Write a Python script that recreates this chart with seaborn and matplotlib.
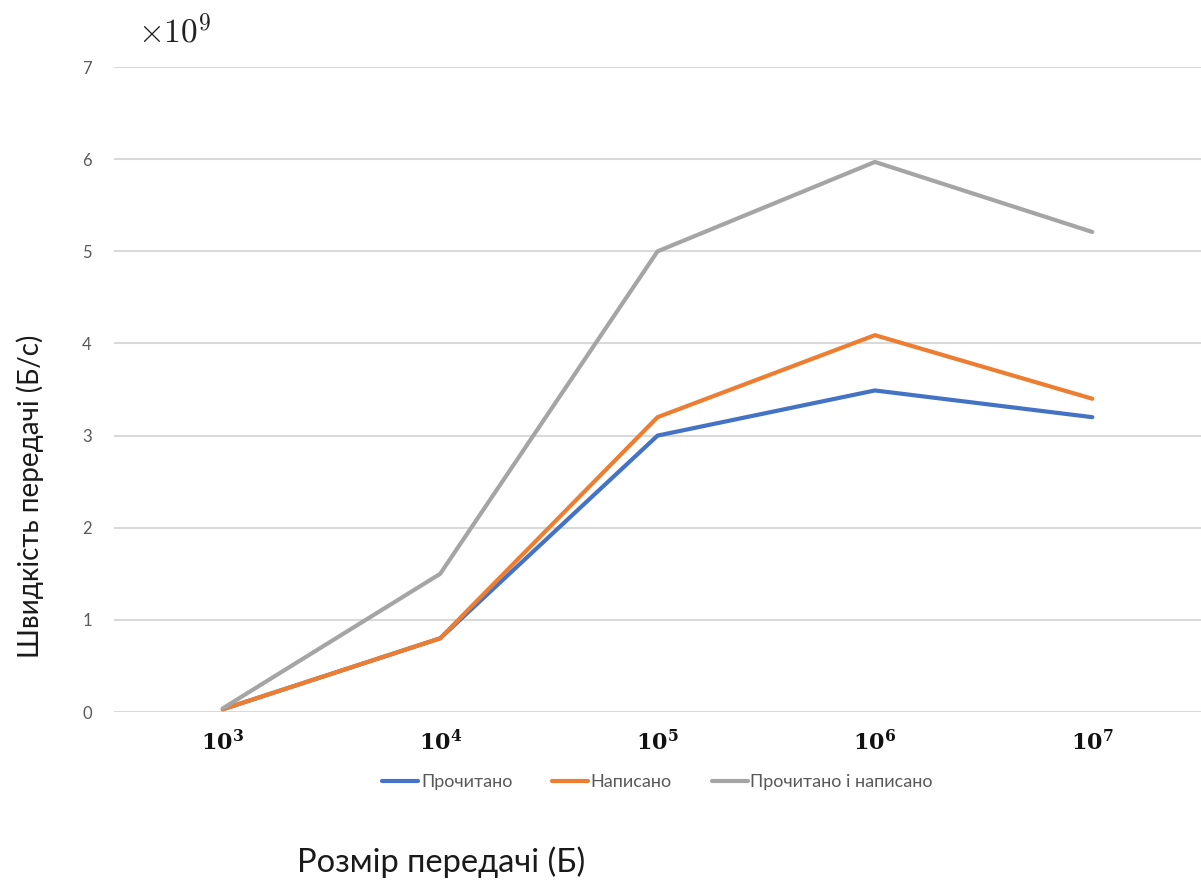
import matplotlib
matplotlib.use("Agg")
import matplotlib.pyplot as plt
import numpy as np
import pandas as pd
import seaborn as sns

# transfer size exponents (10^k bytes)
size_exp = [3, 4, 5, 6, 7]
series_names = ["Прочитано", "Написано", "Прочитано і написано"]
read_rate = [0.03, 0.80, 3.00, 3.49, 3.20]
write_rate = [0.03, 0.80, 3.20, 4.09, 3.40]
rw_rate = [0.04, 1.50, 5.00, 5.97, 5.21]
y_ticks = [0, 1, 2, 3, 4, 5, 6, 7]

COLORS = ["#4472C4", "#ED7D31", "#A5A5A5"]

df = pd.DataFrame({
    "exp": size_exp * 3,
    "rate": read_rate + write_rate + rw_rate,
    "series": [s for s in series_names for _ in size_exp],
})

sns.set_theme(style="white")
plt.rcParams["font.family"] = ["Lato", "DejaVu Sans"]

fig = plt.figure(figsize=(12.01, 8.82), dpi=100)
ax = fig.add_axes([0.095, 0.1927, 0.905, 0.7313])

sns.lineplot(data=df, x="exp", y="rate", hue="series", hue_order=series_names,
             palette=COLORS, lw=3, ax=ax, legend=True)

ax.set_xlim(2.5, 7.5)
ax.set_ylim(0, 7)
ax.set_yticks(y_ticks)
ax.set_xticks(size_exp)
ax.set_xticklabels([rf"$\mathbf{{10^{{{k}}}}}$" for k in size_exp])
ax.tick_params(axis="x", labelsize=16, labelcolor="#111111", pad=12, length=0)
ax.tick_params(axis="y", labelsize=12, labelcolor="#595959", pad=16, length=0)
for lab in ax.get_xticklabels():
    lab.set_math_fontfamily("dejavuserif")

ax.grid(axis="y", color="#D9D9D9", lw=1.5)
ax.set_axisbelow(True)
for sp in ax.spines.values():
    sp.set_visible(False)

ax.set_xlabel("")
ax.set_ylabel("")
fig.text(0.025, 0.437, "Швидкість передачі (Б/с)", rotation=90,
         ha="center", va="center", fontsize=20, color="#1a1a1a")
fig.text(0.367, 0.022, "Розмір передачі (Б)", ha="center", va="center",
         fontsize=23.5, color="#1a1a1a")
t9 = fig.text(0.115, 0.965, r"$\times 10^9$", ha="left", va="center",
              fontsize=24, color="#222222")
t9.set_math_fontfamily("cm")

leg = ax.legend(loc="center", bbox_to_anchor=(0.5, -0.109), ncol=3,
                frameon=False, fontsize=13, handlelength=2.0,
                handletextpad=0.15, columnspacing=2.2)
for t in leg.get_texts():
    t.set_color("#595959")

fig.savefig("out.png", dpi=100)
